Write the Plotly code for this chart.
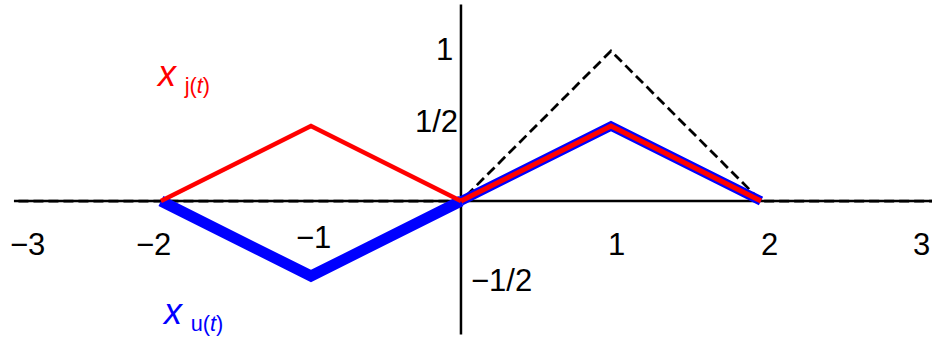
import plotly.graph_objects as go

# Data
t_dash = [-2.95, -2, 0, 1, 2, 3.14]
y_dash = [0, 0, 0, 1, 0, 0]

t_blue_left = [-2, -1, 0]
y_blue_left = [0, -0.5, 0]
t_blue_right = [0, 1, 2]
y_blue_right = [0, 0.5, 0]

t_red = [-2, -1, 0, 1, 2]
y_red = [0, 0.5, 0, 0.5, 0]

# axis lines (data units)
x_axis_t = [-2.98, 3.14]
y_axis_t = [-0.89, 1.31]

x_tick_text = ['\u22123', '\u22122', '\u22121', '1', '2', '3']
x_tick_pos = [(-2.887, -0.293), (-2.047, -0.293), (-0.98, -0.24),
              (1.04, -0.293), (2.06, -0.287), (3.067, -0.293)]
y_tick_text = ['1', '1/2', '\u22121/2']
y_tick_pos = [(-0.113, 1.007), (-0.16, 0.527), (0.267, -0.527)]

fig = go.Figure()

# axes
fig.add_trace(go.Scatter(x=x_axis_t, y=[0, 0], mode='lines',
                         line=dict(color='black', width=2.5), hoverinfo='none'))
fig.add_trace(go.Scatter(x=[0, 0], y=y_axis_t, mode='lines',
                         line=dict(color='black', width=2.5), hoverinfo='none'))

# dashed
fig.add_trace(go.Scatter(x=t_dash, y=y_dash, mode='lines',
                         line=dict(color='black', width=2.8, dash='10px,5px'), hoverinfo='none'))

# blue thick
fig.add_trace(go.Scatter(x=t_blue_left, y=y_blue_left, mode='lines',
                         line=dict(color='#0000ff', width=11), hoverinfo='none'))
fig.add_trace(go.Scatter(x=t_blue_right, y=y_blue_right, mode='lines',
                         line=dict(color='#0000ff', width=9.5), hoverinfo='none'))

# red
fig.add_trace(go.Scatter(x=t_red[:3], y=y_red[:3], mode='lines',
                         line=dict(color='#ff0000', width=4.5), hoverinfo='none'))
fig.add_trace(go.Scatter(x=t_red[2:], y=y_red[2:], mode='lines',
                         line=dict(color='#ff0000', width=5), hoverinfo='none'))

font = dict(family='Liberation Sans, Arial, sans-serif', size=31, color='black')

annotations = []
for txt, (xx, yy) in zip(x_tick_text + y_tick_text, x_tick_pos + y_tick_pos):
    annotations.append(dict(x=xx, y=yy, text=txt, showarrow=False, font=font,
                            xanchor='center', yanchor='middle'))

label_font = 'Liberation Sans, Arial, sans-serif'
annotations.append(dict(x=-1.85, y=0.84, xanchor='center', yanchor='middle', showarrow=False,
                        text="<span style='font-size:36px'><i>x</i></span> <sub>j(<i>t</i>)</sub>",
                        font=dict(family=label_font, size=31, color='#ff0000')))
annotations.append(dict(x=-1.79, y=-0.75, xanchor='center', yanchor='middle', showarrow=False,
                        text="<span style='font-size:36px'><i>x</i></span> <sub>u(<i>t</i>)</sub>",
                        font=dict(family=label_font, size=31, color='#0000ff')))

fig.update_layout(
    width=932, height=338,
    margin=dict(l=0, r=0, t=0, b=0),
    paper_bgcolor='white', plot_bgcolor='white',
    showlegend=False,
    xaxis=dict(range=[-3.073, 3.14], visible=False, fixedrange=True),
    yaxis=dict(range=[-0.913, 1.34], visible=False, fixedrange=True),
    annotations=annotations,
)

fig.write_html("out.html", config={'displayModeBar': False},
               post_script="document.body.style.margin='0';")
